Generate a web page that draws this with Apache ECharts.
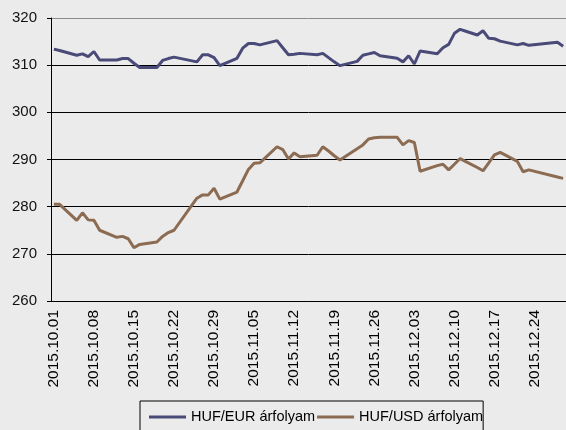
<!DOCTYPE html>
<html>
<head>
<meta charset="utf-8">
<script src="https://cdn.jsdelivr.net/npm/echarts@6/dist/echarts.min.js"></script>
<style>
  html, body { margin: 0; padding: 0; background: #ebebeb; }
  #chart { width: 566px; height: 430px; }
</style>
</head>
<body>
<div id="chart"></div>
<script>
// trading days (2015), weekends and holidays missing
const tradingDays = [
  '10.01', '10.02',
  '10.05', '10.06', '10.07', '10.08', '10.09',
  '10.12', '10.13', '10.14', '10.15', '10.16',
  '10.19', '10.20', '10.21', '10.22',
  '10.26', '10.27', '10.28', '10.29', '10.30',
  '11.02', '11.03', '11.04', '11.05', '11.06',
  '11.09', '11.10', '11.11', '11.12', '11.13',
  '11.16', '11.17', '11.18', '11.19', '11.20',
  '11.23', '11.24', '11.25', '11.26', '11.27',
  '11.30', '12.01', '12.02', '12.03', '12.04',
  '12.07', '12.08', '12.09', '12.10', '12.11', '12.12',
  '12.14', '12.15', '12.16', '12.17', '12.18',
  '12.21', '12.22', '12.23',
  '12.28', '12.29'
];

const eurRates = [
  313.4, 313.1,
  312.1, 312.4, 311.8, 312.9, 311.1,
  311.1, 311.4, 311.4, 310.4, 309.5,
  309.5, 311.0, 311.4, 311.7,
  310.7, 312.2, 312.2, 311.6, 309.9,
  311.45, 313.6, 314.6, 314.6, 314.3,
  315.2, 313.7, 312.2, 312.3, 312.5,
  312.2, 312.5, 311.6, 310.7, 309.9,
  310.8, 312.1, 312.4, 312.7, 312.0,
  311.45, 310.7, 312.0, 310.25, 313.0,
  312.4, 313.7, 314.4, 316.75, 317.6, 317.2,
  316.4, 317.3, 315.7, 315.6, 315.1,
  314.3, 314.6, 314.2,
  314.85, 314.0
];

const usdRates = [
  280.5, 280.5,
  277.1, 278.7, 277.2, 277.1, 275.0,
  273.5, 273.7, 273.2, 271.3, 272.0,
  272.5, 273.7, 274.5, 275.0,
  281.8, 282.5, 282.5, 283.9, 281.6,
  283.1, 285.5, 287.9, 289.2, 289.3,
  292.7, 292.1, 290.1, 291.4, 290.6,
  290.9, 292.7, 291.8, 290.8, 289.9,
  292.3, 293.1, 294.35, 294.6, 294.7,
  294.7, 293.1, 294.0, 293.6, 287.5,
  288.7, 289.0, 287.8, 289.0, 290.2, 289.55,
  288.3, 287.6, 289.3, 291.0, 291.5,
  289.6, 287.4, 287.8,
  286.3, 286.0
];

const seriesNames = ['HUF/EUR árfolyam', 'HUF/USD árfolyam'];
const yTicks = [260, 270, 280, 290, 300, 310, 320];

// calendar day axis: 2015.10.01 .. 2015.12.29
const days = [];
for (let d = new Date(Date.UTC(2015, 9, 1)); d <= new Date(Date.UTC(2015, 11, 29)); d.setUTCDate(d.getUTCDate() + 1)) {
  const mm = String(d.getUTCMonth() + 1).padStart(2, '0');
  const dd = String(d.getUTCDate()).padStart(2, '0');
  days.push('2015.' + mm + '.' + dd);
}

function onCalendar(values) {
  const byDay = {};
  tradingDays.forEach((t, i) => { byDay['2015.' + t] = values[i]; });
  return days.map(d => (d in byDay ? byDay[d] : null));
}

const font = "'Liberation Sans', Arial, sans-serif";

const chart = echarts.init(document.getElementById('chart'));
chart.setOption({
  animation: false,
  backgroundColor: '#ebebeb',
  grid: { left: 51, top: 18, right: -3, bottom: 129 },
  legend: {
    left: 140,
    top: 401,
    padding: [8, 0, 30, 9],
    borderColor: '#000',
    borderWidth: 1,
    icon: 'rect',
    itemWidth: 37,
    itemHeight: 3,
    itemGap: 2,
    textStyle: { fontFamily: font, fontSize: 14.5, color: '#000', lineHeight: 16 },
    data: seriesNames
  },
  xAxis: {
    type: 'category',
    data: days,
    boundaryGap: true,
    axisLine: { lineStyle: { color: '#000', width: 1 } },
    axisTick: { interval: 6, length: 5, lineStyle: { color: '#000' } },
    axisLabel: {
      interval: 6,
      rotate: 90,
      margin: 9,
      fontFamily: font,
      fontSize: 15.5,
      color: '#000'
    },
    splitLine: { show: false }
  },
  yAxis: {
    type: 'value',
    min: yTicks[0],
    max: yTicks[yTicks.length - 1],
    interval: 10,
    axisLine: { show: true, lineStyle: { color: '#000', width: 1 } },
    axisTick: { show: true, length: 4, lineStyle: { color: '#000' } },
    axisLabel: { margin: 14, fontFamily: font, fontSize: 15, color: '#111' },
    splitLine: {
      lineStyle: {
        color: ['#000', '#000', '#000', '#000', '#000', '#000', '#8a8a8a'],
        width: 1
      }
    }
  },
  series: [
    {
      name: seriesNames[0],
      type: 'line',
      data: onCalendar(eurRates),
      connectNulls: true,
      symbol: 'none',
      lineStyle: { color: '#4a4a78', width: 3 },
      itemStyle: { color: '#4a4a78' }
    },
    {
      name: seriesNames[1],
      type: 'line',
      data: onCalendar(usdRates),
      connectNulls: true,
      symbol: 'none',
      lineStyle: { color: '#8b6b52', width: 3 },
      itemStyle: { color: '#8b6b52' }
    }
  ]
});
</script>
</body>
</html>
